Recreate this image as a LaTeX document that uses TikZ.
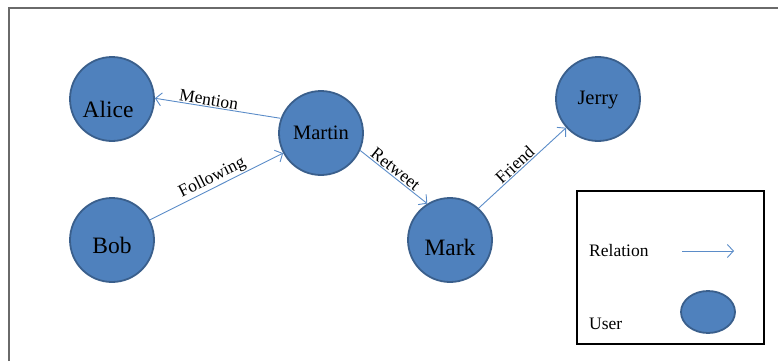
\documentclass[tikz,border=0pt]{standalone}
\usepackage{fontspec}
\setmainfont{Liberation Serif}
\usetikzlibrary{arrows.meta,shapes.geometric}
\definecolor{ufill}{HTML}{4F81BD}
\definecolor{uline}{HTML}{3A5F8C}
\definecolor{relblue}{HTML}{5B8CC8}
\definecolor{framegray}{HTML}{6A6A6A}
\begin{document}
\begin{tikzpicture}[x=1pt,y=-1pt,
  user/.style={circle, fill=ufill, draw=uline, line width=1.8pt, minimum size=84pt, inner sep=0pt},
  bigtext/.style={font=\fontsize{23.5}{26}\selectfont, inner sep=0pt},
  midtext/.style={font=\fontsize{20.5}{23}\selectfont, inner sep=0pt},
  relation/.style={draw=relblue, line width=0.9pt, -{Straight Barb[length=6pt,width=13pt,line width=0.9pt]}},
  lbl/.style={font=\fontsize{17.5}{19}\selectfont, inner sep=1pt, sloped, above},
  legtext/.style={font=\fontsize{17.5}{19}\selectfont, inner sep=0pt, anchor=west}]
\useasboundingbox (0,0) rectangle (778,361);
% outer frame
\coordinate (fbl) at (9,361);
\coordinate (ftl) at (9,8);
\coordinate (ftr) at (778,8);
\draw[framegray, line width=1.8pt] (fbl) -- (ftl) -- (ftr);
% users
\node[user, label={[bigtext, xshift=-4pt, yshift=-10pt]center:Alice}] (alice) at (112,99) {};
\node[user, label={[bigtext, yshift=-5pt]center:Bob}] (bob) at (112,240) {};
\node[user, label={[midtext]center:Martin}] (martin) at (321,133) {};
\node[user, label={[bigtext, yshift=-7pt]center:Mark}] (mark) at (450,240) {};
\node[user, label={[midtext, yshift=-1pt]center:Jerry}] (jerry) at (598,99) {};
% relations
\draw[relation] (martin.160) -- node[lbl, pos=0.58] {Mention} (alice.1);
\draw[relation] (bob.28) -- node[lbl, pos=0.5] {Following} (martin.208);
\draw[relation] (martin.-24) -- node[lbl, pos=0.46] {Retweet} (mark.122);
\draw[relation] (mark.48) -- node[lbl, pos=0.47] {Friend} (jerry.222);
% legend
\node[draw=black, line width=1.2pt, minimum width=187pt, minimum height=153pt, inner sep=0pt] (legend) at (670.5,267.5) {};
\node[legtext] (reltext) at (589,251) {Relation};
\coordinate (ra) at (682,251);
\coordinate (rb) at (734,251);
\draw[relation] (ra) -- (rb);
\node[legtext] (usertext) at (589,324) {User};
\node[ellipse, fill=ufill, draw=uline, line width=1.8pt, minimum width=54pt, minimum height=42pt, inner sep=0pt] (leguser) at (708,312) {};
\end{tikzpicture}
\end{document}
